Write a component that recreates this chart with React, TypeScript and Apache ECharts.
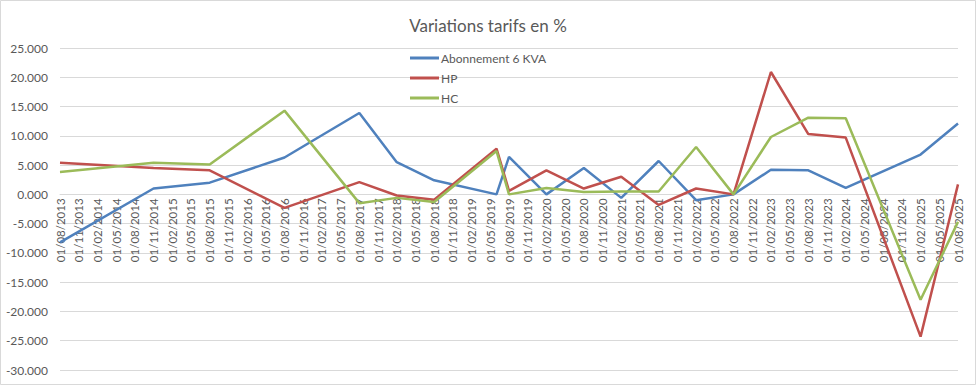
import React, { useEffect, useRef } from "react";
import * as echarts from "echarts";

// Axis range: monthly categories from 08/2013 to 08/2025
const startYear = 2013;
const startMonth = 8;
const monthCount = 145;

// Dates of tariff changes (MM/YYYY)
const changeDates = [
  "08/2013", "11/2014", "08/2015", "08/2016", "08/2017", "02/2018", "08/2018",
  "06/2019", "08/2019", "02/2020", "08/2020", "02/2021", "08/2021", "02/2022",
  "08/2022", "02/2023", "08/2023", "02/2024", "02/2025", "08/2025",
];

const abonnement = [
  -8.2, 1.0, 2.0, 6.3, 13.9, 5.5, 2.4, 0.0, 6.4, 0.0, 4.5, -0.6, 5.7, -1.0,
  0.0, 4.2, 4.1, 1.1, 6.8, 12.1,
];
const hp = [
  5.4, 4.5, 4.1, -2.3, 2.1, -0.2, -0.9, 7.8, 0.6, 4.1, 1.0, 3.0, -1.8, 1.0,
  0.0, 20.9, 10.3, 9.7, -24.3, 1.7,
];
const hc = [
  3.8, 5.4, 5.1, 14.3, -1.5, -0.6, -1.3, 7.4, 0.0, 1.1, 0.4, 0.5, 0.5, 8.1,
  0.0, 9.8, 13.1, 13.0, -18.0, -4.7,
];

const seriesNames = ["Abonnement 6 KVA", "HP", "HC"];
const seriesColors = ["#4F81BD", "#C0504D", "#9BBB59"];

const yMin = -30;
const yMax = 25;
const yStep = 5;

const W = 976;
const H = 385;
const gridTop = 48;
const gridBottom = 15;

function buildCategories(): string[] {
  const cats: string[] = [];
  for (let i = 0; i < monthCount; i++) {
    const m0 = startMonth - 1 + i;
    const y = startYear + Math.floor(m0 / 12);
    const m = (m0 % 12) + 1;
    cats.push("01/" + String(m).padStart(2, "0") + "/" + y);
  }
  return cats;
}

function buildSeriesData(categories: string[], values: number[]) {
  const arr: (number | null)[] = categories.map(() => null);
  changeDates.forEach((d, i) => {
    const idx = categories.indexOf("01/" + d);
    if (idx >= 0) arr[idx] = values[i];
  });
  return arr;
}

export default function App() {
  const ref = useRef<HTMLDivElement>(null);
  useEffect(() => {
    if (!ref.current) return;
    const chart = echarts.init(ref.current, undefined, { renderer: "svg" });
    const categories = buildCategories();
    const all = [abonnement, hp, hc];
    const font = "Lato, 'Open Sans', sans-serif";
    // Move the category axis up to the zero line (Excel style)
    const gridHeight = H - gridTop - gridBottom;
    const zeroOffset = -gridHeight * ((0 - yMin) / (yMax - yMin));
    chart.setOption({
      animation: false,
      backgroundColor: "#ffffff",
      textStyle: { fontFamily: font },
      title: {
        text: "Variations tarifs en %",
        left: "center",
        top: 12,
        textStyle: { fontSize: 17, fontWeight: "normal", color: "#595959", fontFamily: font },
      },
      legend: {
        orient: "vertical",
        left: 405,
        top: 47,
        itemWidth: 29,
        itemHeight: 3,
        itemGap: 8,
        icon: "rect",
        data: seriesNames,
        textStyle: { fontSize: 12, color: "#595959", fontFamily: font, padding: [0, 0, 0, -3] },
      },
      graphic: [
        {
          type: "rect",
          shape: { x: 0.5, y: 0.5, width: W - 1, height: H - 1 },
          style: { fill: "none", stroke: "#d9d9d9", lineWidth: 1 },
          silent: true,
        },
      ],
      grid: {
        left: 60,
        right: 18,
        top: gridTop,
        bottom: gridBottom,
        containLabel: false,
        outerBoundsMode: "none",
      },
      xAxis: {
        type: "category",
        data: categories,
        boundaryGap: false,
        position: "bottom",
        offset: zeroOffset,
        axisLine: { onZero: false, lineStyle: { color: "#d9d9d9", width: 1 } },
        axisTick: { show: false },
        axisLabel: {
          interval: 2,
          rotate: 90,
          margin: 4,
          fontSize: 11.5,
          color: "#595959",
          fontFamily: font,
        },
        splitLine: { show: false },
      },
      yAxis: {
        type: "value",
        min: yMin,
        max: yMax,
        interval: yStep,
        axisLine: { show: false },
        axisTick: { show: false },
        axisLabel: {
          formatter: (v: number) => v.toFixed(3),
          fontSize: 12,
          color: "#595959",
          margin: 12,
          fontFamily: font,
        },
        splitLine: { lineStyle: { color: "#d9d9d9", width: 1 } },
      },
      series: seriesNames.map((name, i) => ({
        name,
        type: "line",
        data: buildSeriesData(categories, all[i]),
        connectNulls: true,
        showSymbol: false,
        symbol: "none",
        lineStyle: { width: 2.5, color: seriesColors[i] },
        itemStyle: { color: seriesColors[i] },
      })),
    });
    return () => chart.dispose();
  }, []);
  return (
    <div
      ref={ref}
      style={{ position: "fixed", left: 0, top: 0, width: W, height: H }}
    />
  );
}
